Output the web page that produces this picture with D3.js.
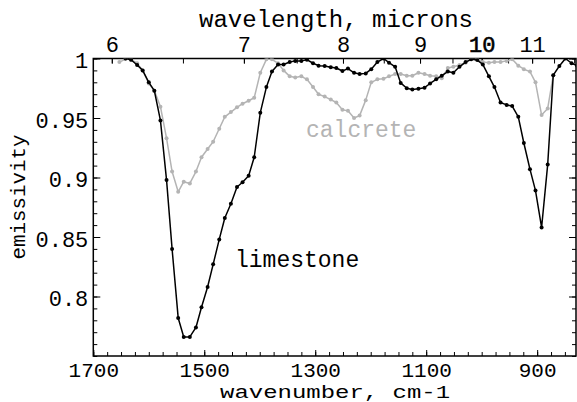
<!DOCTYPE html>
<html>
<head>
<meta charset="utf-8">
<script src="https://cdn.jsdelivr.net/npm/d3@7"></script>
<style>
  body { margin: 0; background: #fff; }
  svg { display: block; }
</style>
</head>
<body>
<script>
// wavenumber (cm-1) for each sample
const wavenumbers = [
  1653, 1642, 1632, 1621, 1611, 1600, 1590, 1579, 1568, 1558,
  1547, 1537, 1526, 1515, 1505, 1494, 1484, 1473, 1463, 1452,
  1441, 1431, 1420, 1410, 1399, 1388, 1378, 1367, 1357, 1346,
  1336, 1325, 1315, 1304, 1294, 1283, 1272, 1262, 1251, 1241,
  1230, 1220, 1209, 1199, 1188, 1177, 1167, 1156, 1146, 1135,
  1125, 1114, 1103, 1093, 1082, 1072, 1061, 1051, 1040, 1029,
  1019, 1008, 998, 987, 977, 966, 955, 945, 934, 924,
  913, 903, 892, 881, 871, 860, 849, 838, 828
];

const limestone = [
  null, 1.000, 0.999, 0.9945, 0.990, 0.980, 0.973, 0.948, 0.898, 0.840,
  0.782, 0.766, 0.766, 0.774, 0.791, 0.808, 0.827, 0.848, 0.866, 0.878,
  0.892, 0.896, 0.9015, 0.917, 0.9545, 0.976, 0.989, 0.995, 0.995, 0.997,
  0.998, 0.998, 0.999, 0.996, 0.994, 0.9937, 0.9926, 0.992, 0.9895, 0.9915,
  0.988, 0.987, 0.9875, 0.991, 0.997, 1.000, 0.9965, 0.993, 0.9795, 0.975,
  0.974, 0.9746, 0.9755, 0.979, 0.9825, 0.9856, 0.989, 0.988, 0.993, 0.997,
  0.9993, 0.9987, 0.995, 0.985, 0.976, 0.963, 0.961, 0.960, 0.951, 0.929,
  0.907, 0.889, 0.858, 0.911, 0.986, 0.9937, 1.000, 0.996, 0.994
];

const calcrete = [
  0.997, 0.9995, 0.999, 0.996, 0.990, 0.979, 0.973, 0.9595, 0.933, 0.905,
  0.888, 0.8965, 0.895, 0.905, 0.917, 0.924, 0.930, 0.941, 0.951, 0.955,
  0.959, 0.962, 0.9645, 0.967, 0.988, 0.9993, 0.9993, 0.996, 0.990, 0.985,
  0.984, 0.985, 0.9825, 0.976, 0.970, 0.968, 0.9655, 0.963, 0.957, 0.956,
  0.950, 0.952, 0.965, 0.980, 0.9825, 0.983, 0.985, 0.987, 0.987, 0.9855,
  0.9855, 0.988, 0.987, 0.9855, 0.985, 0.9835, 0.992, 0.993, 0.9945, 0.9965,
  0.9993, 0.9993, 0.997, 0.9965, 0.997, 0.997, 0.998, 0.9993, 0.994, 0.991,
  0.989, 0.980, 0.9525, 0.958, 0.986, null, null, null, null
];

const bottomTicks = [1700, 1500, 1300, 1100, 900];
const topTicks = [6, 7, 8, 9, 10, 11];
const yTicks = [0.8, 0.85, 0.9, 0.95, 1];

const width = 577, height = 402;
const font = "'Liberation Mono', 'DejaVu Sans Mono', monospace";

const x = d3.scaleLinear().domain([1700, 830]).range([93.3, 576]);
const y = d3.scaleLinear().domain([0.75, 1]).range([356, 58.5]);

const svg = d3.select("body").append("svg")
  .attr("width", width)
  .attr("height", height);

svg.append("clipPath").attr("id", "plot")
  .append("rect")
  .attr("x", x.range()[0]).attr("y", y.range()[1])
  .attr("width", x.range()[1] - x.range()[0])
  .attr("height", y.range()[0] - y.range()[1]);

function styleAxis(g) {
  g.select(".domain").remove();
  g.selectAll("line").attr("stroke", "#000").attr("stroke-width", 1);
  g.attr("font-family", font).attr("font-size", 22);
  g.selectAll("text").attr("fill", "#000");
}

// bottom: minor every 25, labelled every 200
const minorX = d3.range(1700, 829, -25);
svg.append("g").attr("transform", `translate(0,${y.range()[0]})`)
  .call(d3.axisBottom(x).tickValues(minorX).tickSize(-4).tickFormat(""))
  .call(styleAxis);
svg.append("g").attr("transform", `translate(0,${y.range()[0]})`)
  .call(d3.axisBottom(x).tickValues(bottomTicks).tickSize(-6).tickPadding(6).tickFormat(d3.format("d")))
  .call(styleAxis)
  .attr("font-size", 21);

// top: wavelength in microns, ticks every half micron
const halfMicrons = d3.range(6, 12.01, 0.5);
svg.append("g").attr("transform", `translate(0,${y.range()[1]})`)
  .call(d3.axisTop(x).tickValues(halfMicrons.map(l => 10000 / l)).tickSize(-5).tickFormat(""))
  .call(styleAxis);
svg.append("g").attr("transform", `translate(0,${y.range()[1]})`)
  .call(d3.axisTop(x).tickValues(topTicks.map(l => 10000 / l)).tickSize(-5).tickPadding(7)
    .tickFormat((d, i) => topTicks[i]))
  .call(styleAxis)
  .selectAll("text")
  .filter(d => Math.round(10000 / d) === 10)
  .attr("stroke", "#000").attr("stroke-width", 0.6);

// left and right: minor every 0.01
const minorY = d3.range(0.75, 1.0001, 0.01);
svg.append("g").attr("transform", `translate(${x.range()[0]},0)`)
  .call(d3.axisLeft(y).tickValues(minorY).tickSize(-4).tickFormat(""))
  .call(styleAxis);
svg.append("g").attr("transform", `translate(${x.range()[0]},0)`)
  .call(d3.axisLeft(y).tickValues(yTicks).tickSize(-7).tickPadding(5).tickFormat(d => d === 1 ? "1" : d3.format("")(d)))
  .call(styleAxis)
  .selectAll("text").attr("dy", "0.42em");
svg.append("g").attr("transform", `translate(${x.range()[1]},0)`)
  .call(d3.axisRight(y).tickValues(minorY).tickSize(-4).tickFormat(""))
  .call(styleAxis);
svg.append("g").attr("transform", `translate(${x.range()[1]},0)`)
  .call(d3.axisRight(y).tickValues(yTicks).tickSize(-7).tickFormat(""))
  .call(styleAxis);

// frame
svg.append("rect")
  .attr("x", x.range()[0]).attr("y", y.range()[1])
  .attr("width", x.range()[1] - x.range()[0])
  .attr("height", y.range()[0] - y.range()[1])
  .attr("fill", "none")
  .attr("stroke", "#000")
  .attr("stroke-width", 1.5);

function drawSeries(values, color) {
  const pts = wavenumbers.map((w, i) => ({ w, v: values[i] })).filter(d => d.v != null);
  const g = svg.append("g").attr("clip-path", "url(#plot)");
  g.append("path")
    .datum(pts)
    .attr("fill", "none")
    .attr("stroke", color)
    .attr("stroke-width", 1.5)
    .attr("stroke-linejoin", "round")
    .attr("d", d3.line().x(d => x(d.w)).y(d => y(d.v)));
  g.selectAll("circle")
    .data(pts)
    .enter()
    .append("circle")
    .attr("cx", d => x(d.w))
    .attr("cy", d => y(d.v))
    .attr("r", 2)
    .attr("fill", color);
}

drawSeries(calcrete, "#b4b4b4");
drawSeries(limestone, "#000");

// labels
svg.append("text")
  .attr("x", 306).attr("y", 137)
  .attr("font-family", font).attr("font-size", 23)
  .attr("fill", "#b4b4b4")
  .text("calcrete");

svg.append("text")
  .attr("x", 235).attr("y", 267)
  .attr("font-family", font).attr("font-size", 23)
  .attr("fill", "#000")
  .text("limestone");

svg.append("text")
  .attr("x", 336).attr("y", 27)
  .attr("text-anchor", "middle")
  .attr("font-family", font).attr("font-size", 23)
  .attr("textLength", 274).attr("lengthAdjust", "spacingAndGlyphs")
  .text("wavelength, microns");

svg.append("text")
  .attr("x", 335).attr("y", 398)
  .attr("text-anchor", "middle")
  .attr("font-family", font).attr("font-size", 18)
  .attr("textLength", 230).attr("lengthAdjust", "spacingAndGlyphs")
  .text("wavenumber, cm-1");

svg.append("text")
  .attr("transform", "translate(25,197)rotate(-90)")
  .attr("text-anchor", "middle")
  .attr("font-family", font).attr("font-size", 21)
  .attr("textLength", 125).attr("lengthAdjust", "spacingAndGlyphs")
  .text("emissivity");
</script>
</body>
</html>
